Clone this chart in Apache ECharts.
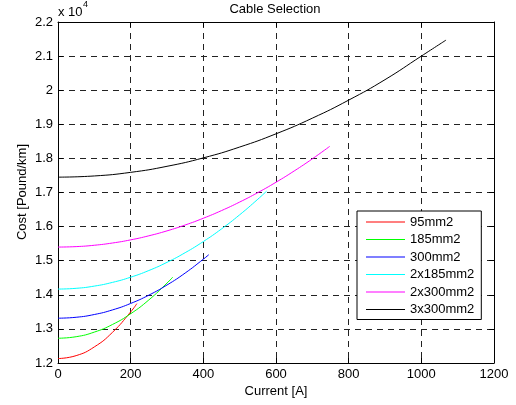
<!DOCTYPE html>
<html><head><meta charset="utf-8">
<script src="https://cdn.jsdelivr.net/npm/echarts@6/dist/echarts.min.js"></script>
<style>html,body{margin:0;padding:0;background:#fff}#c{width:516px;height:405px}</style>
</head><body><div id="c"></div>
<script>
var seriesNames = ['95mm2','185mm2','300mm2','2x185mm2','2x300mm2','3x300mm2'];
var seriesColors = ['#ff0000','#00ff00','#0000ff','#00ffff','#ff00ff','#000000'];
var s95 = [[0,12130],[50,12216],[100,12472],[150,12900],[200,13498],[217,13740]];
var s185 = [[0,12726],[50,12771],[100,12906],[150,13130],[200,13445],[250,13849],[300,14343],[316,14520]];
var s300 = [[0,13314],[50,13341],[100,13422],[150,13557],[200,13746],[250,13990],[300,14287],[350,14638],[400,15044],[415,15176]];
var s2x185 = [[0,14168],[50,14190],[100,14255],[150,14364],[200,14516],[250,14712],[300,14952],[350,15235],[400,15562],[450,15932],[500,16346],[550,16803],[574,17038]];
var s2x300 = [[0,15400],[50,15413],[100,15453],[150,15519],[200,15611],[250,15730],[300,15875],[350,16047],[400,16245],[450,16469],[500,16720],[550,16997],[600,17301],[650,17631],[700,17987],[748,18354]];
var s3x300 = [[0,17450],[100,17485],[200,17591],[300,17768],[400,18015],[500,18333],[600,18721],[700,19180],[800,19709],[900,20309],[1000,21000],[1068,21470]];
var allData = [s95,s185,s300,s2x185,s2x300,s3x300];
var xMin = 0, xMax = 1200, xStep = 200;
var yMin = 12000, yMax = 22000, yStep = 1000;
var yScale = 10000;

var font = 'Liberation Sans, Arial, Helvetica, sans-serif';
var fs = 13;
var chart = echarts.init(document.getElementById('c'), null, {renderer:'canvas'});
var gridLine = {show:true, lineStyle:{color:'#222', width:1, type:[6,5]}};
var series = allData.map(function(d,i){
  return {name:seriesNames[i], type:'line', data:d, smooth:true, symbol:'none', showSymbol:false,
    lineStyle:{color:seriesColors[i], width:1}, itemStyle:{color:seriesColors[i]}, xAxisIndex:0, yAxisIndex:0, z:3};
});
chart.setOption({
  animation:false,
  backgroundColor:'#fff',
  grid:{left:58, right:22, top:22, bottom:42, show:false},
  xAxis:[
    {type:'value', min:xMin, max:xMax, interval:xStep, position:'bottom',
     axisLine:{show:true, lineStyle:{color:'#000', width:1}},
     axisTick:{show:true, inside:true, length:5, lineStyle:{color:'#000'}},
     axisLabel:{color:'#000', fontFamily:font, fontSize:fs, margin:5, formatter:function(v){return String(v);}},
     splitLine:gridLine},
    {type:'value', min:xMin, max:xMax, interval:xStep, position:'top',
     axisLine:{show:true, onZero:false, lineStyle:{color:'#000', width:1}},
     axisTick:{show:true, inside:true, length:5, lineStyle:{color:'#000'}},
     axisLabel:{show:false}, splitLine:{show:false}}
  ],
  yAxis:[
    {type:'value', min:yMin, max:yMax, interval:yStep, position:'left',
     axisLine:{show:true, onZero:false, lineStyle:{color:'#000', width:1}},
     axisTick:{show:true, inside:true, length:5, lineStyle:{color:'#000'}},
     axisLabel:{color:'#000', fontFamily:font, fontSize:fs, margin:5,
       formatter:function(v){return String(Math.round(v/yScale*10)/10);}},
     splitLine:gridLine},
    {type:'value', min:yMin, max:yMax, interval:yStep, position:'right',
     axisLine:{show:true, onZero:false, lineStyle:{color:'#000', width:1}},
     axisTick:{show:true, inside:true, length:5, lineStyle:{color:'#000'}},
     axisLabel:{show:false}, splitLine:{show:false}}
  ],
  legend:{orient:'vertical', left:357, top:211, data:seriesNames,
    backgroundColor:'#fff', borderColor:'#000', borderWidth:1,
    padding:[4,7,3,9], itemWidth:39, itemHeight:14, itemGap:3.5,
    textStyle:{color:'#000', fontFamily:font, fontSize:fs, lineHeight:14},
    icon:'path://M0,7 L40,7 L40,8 L0,8 Z'},
  graphic:[
    {type:'text', x:275, y:9, z:10, style:{text:'Cable Selection', fill:'#000', font:fs+'px '+font, textAlign:'center', textVerticalAlign:'middle'}},
    {type:'text', x:58, y:12, z:10, style:{text:'x 10', fill:'#000', font:fs+'px '+font, textAlign:'left', textVerticalAlign:'middle'}},
    {type:'text', x:83, y:5, z:10, style:{text:'4', fill:'#000', font:'9px '+font, textAlign:'left', textVerticalAlign:'middle'}},
    {type:'text', x:276, y:391, z:10, style:{text:'Current [A]', fill:'#000', font:fs+'px '+font, textAlign:'center', textVerticalAlign:'middle'}},
    {type:'text', x:22, y:192, rotation:Math.PI/2, z:10, style:{text:'Cost [Pound/km]', fill:'#000', font:fs+'px '+font, textAlign:'center', textVerticalAlign:'middle'}}
  ],
  series:series
});
</script></body></html>
